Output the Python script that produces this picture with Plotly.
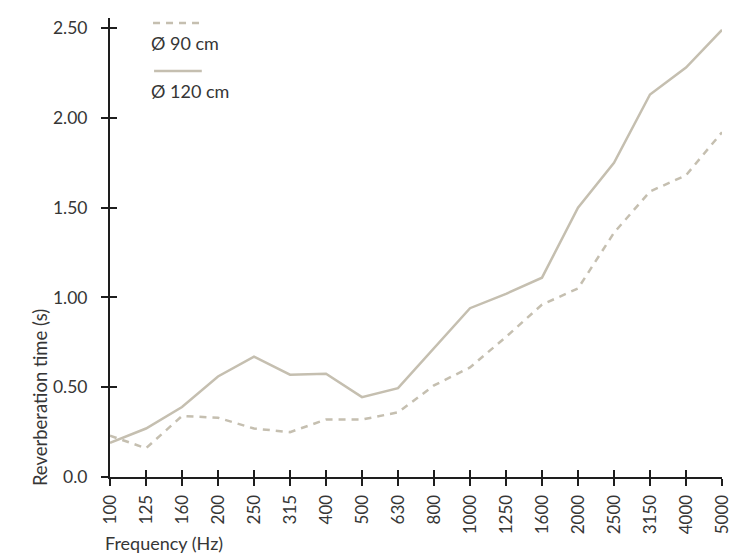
import plotly.graph_objects as go

frequencies = ["100", "125", "160", "200", "250", "315", "400", "500", "630", "800",
               "1000", "1250", "1600", "2000", "2500", "3150", "4000", "5000"]
rt_90cm = [0.23, 0.16, 0.34, 0.33, 0.27, 0.25, 0.32, 0.32, 0.36, 0.51,
           0.61, 0.78, 0.96, 1.05, 1.36, 1.59, 1.68, 1.92]
rt_120cm = [0.19, 0.27, 0.39, 0.56, 0.67, 0.57, 0.575, 0.445, 0.495, 0.72,
            0.94, 1.02, 1.11, 1.50, 1.75, 2.13, 2.28, 2.49]
y_tickvals = [0, 0.5, 1.0, 1.5, 2.0, 2.5]
y_ticktext = ["0.0", "0.50", "1.00", "1.50", "2.00", "2.50"]
series_names = ["Ø 90 cm", "Ø 120 cm"]

LINE_COLOR = "#c5bfb0"
AXIS_COLOR = "#1e1e1e"
TEXT_COLOR = "#363636"
FONT = "Lato, 'Open Sans', sans-serif"

fig = go.Figure()
fig.add_trace(go.Scatter(x=frequencies, y=rt_120cm, mode="lines", name=series_names[1],
                         line=dict(color=LINE_COLOR, width=2.5), xaxis="x", yaxis="y"))
fig.add_trace(go.Scatter(x=frequencies, y=rt_90cm, mode="lines", name=series_names[0],
                         line=dict(color=LINE_COLOR, width=2.5, dash="7px,6px"),
                         xaxis="x2", yaxis="y2"))

yrange = [0, 2.556]
xrange = [0, len(frequencies) - 1]

common_x = dict(type="category", categoryorder="array", categoryarray=frequencies,
                range=xrange, showgrid=False, zeroline=False)
common_y = dict(range=yrange, tickvals=y_tickvals, showgrid=False, zeroline=False)

fig.update_layout(
    width=745, height=547,
    margin=dict(l=102, r=31, t=10, b=78),
    paper_bgcolor="white", plot_bgcolor="white",
    showlegend=False,
    font=dict(family=FONT, size=17, color=TEXT_COLOR),
    xaxis=dict(**common_x, showline=True, linecolor=AXIS_COLOR, linewidth=2,
               ticks="outside", ticklen=7, tickwidth=2, tickcolor=AXIS_COLOR,
               tickangle=-90, ticklabelstandoff=2, tickfont=dict(size=17, color=TEXT_COLOR)),
    xaxis2=dict(**common_x, overlaying="x", side="bottom", showline=False,
                ticks="inside", ticklen=7, tickwidth=2, tickcolor=AXIS_COLOR,
                showticklabels=False, anchor="y"),
    yaxis=dict(**common_y, ticktext=y_ticktext, showline=True, linecolor=AXIS_COLOR,
               linewidth=2, ticks="outside", ticklen=7, tickwidth=2, tickcolor=AXIS_COLOR,
               ticklabelstandoff=10, tickfont=dict(size=17.5, color=TEXT_COLOR)),
    yaxis2=dict(**common_y, overlaying="y", side="left", showline=False,
                ticks="inside", ticklen=7, tickwidth=2, tickcolor=AXIS_COLOR,
                showticklabels=False, anchor="x"),
)

# axis titles
fig.add_annotation(text="Reverberation time (s)", xref="paper", yref="paper",
                   x=-0.1144, y=0.174, xanchor="center", yanchor="middle",
                   textangle=-90, showarrow=False, font=dict(size=18.5, color=TEXT_COLOR))
fig.add_annotation(text="Frequency (Hz)", xref="paper", yref="paper",
                   x=-0.0114, y=-0.1438, xanchor="left", yanchor="middle",
                   showarrow=False, font=dict(size=18, color=TEXT_COLOR))

# legend (sample line above its label)
fig.add_shape(type="line", xref="paper", yref="paper", x0=0.0703, x1=0.152, y0=0.989, y1=0.989,
              line=dict(color=LINE_COLOR, width=2.5, dash="7px,6px"))
fig.add_annotation(text=series_names[0], xref="paper", yref="paper", x=0.064, y=0.9455,
                   xanchor="left", yanchor="middle", showarrow=False,
                   font=dict(size=18, color=TEXT_COLOR))
fig.add_shape(type="line", xref="paper", yref="paper", x0=0.072, x1=0.150, y0=0.8845, y1=0.8845,
              line=dict(color=LINE_COLOR, width=2.5))
fig.add_annotation(text=series_names[1], xref="paper", yref="paper", x=0.064, y=0.841,
                   xanchor="left", yanchor="middle", showarrow=False,
                   font=dict(size=18, color=TEXT_COLOR))

fig.write_html("out.html")
